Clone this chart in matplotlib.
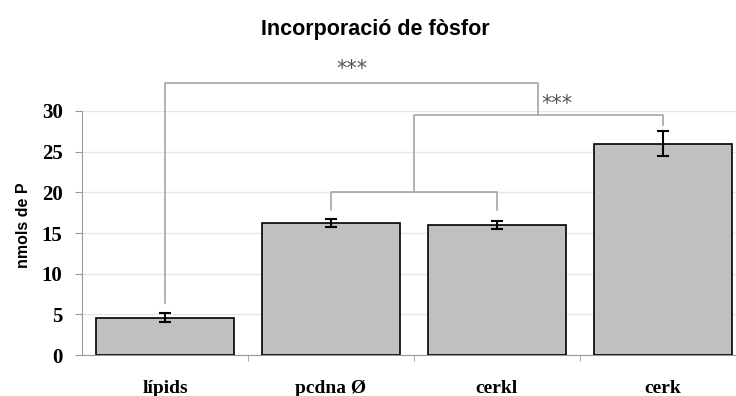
import numpy as np
import matplotlib.pyplot as plt

# Dades
grups = ['lípids', 'pcdna Ø', 'cerkl', 'cerk']
nmols = [4.6, 16.2, 16.0, 26.0]
errors = [0.55, 0.5, 0.5, 1.5]

fig = plt.figure(figsize=(7.36, 3.96), dpi=100)
ax = fig.add_axes([0.1114, 0.1035, 0.8886, 0.6162])

x = np.arange(len(grups))
ax.bar(x, nmols, width=0.83, color='#c0c0c0', edgecolor='black', linewidth=1.2, zorder=3)
ax.errorbar(x, nmols, yerr=errors, fmt='none', ecolor='black', elinewidth=1.5,
            capsize=4.5, capthick=1.5, zorder=4)

ax.set_xlim(-0.5, 3.44)
ax.set_ylim(0, 30)
ax.set_yticks(range(0, 31, 5))
ax.yaxis.grid(True, color='#e6e6e6', linewidth=1)
ax.set_axisbelow(True)

for s in ['top', 'right']:
    ax.spines[s].set_visible(False)
for s in ['left', 'bottom']:
    ax.spines[s].set_color('#999999')

ax.set_xticks(x)
ax.set_xticklabels(grups, family='Liberation Serif', fontweight='bold', fontsize=14)
ax.tick_params(axis='x', length=0, pad=18)
ax.set_xticks([0.5, 1.5, 2.5], minor=True)
ax.tick_params(axis='x', which='minor', length=4, color='#999999')
ax.tick_params(axis='y', length=5, color='#999999', pad=9)
for lab in ax.get_yticklabels():
    lab.set_family('Liberation Serif')
    lab.set_fontweight('bold')
    lab.set_fontsize(15)

ax.set_ylabel('nmols de P', family='Liberation Sans', fontweight='bold', fontsize=11.5)
ax.yaxis.set_label_coords(-0.078, 0.53)
fig.text(0.51, 0.926, 'Incorporació de fòsfor', family='Liberation Sans', fontweight='bold',
         fontsize=15.5, ha='center', va='center')

# Claus de significació
gris = '#a6a6a6'
def linia(xs, ys):
    ax.plot(xs, ys, color=gris, linewidth=1.2, clip_on=False, zorder=2)

linia([1, 1, 2, 2], [17.8, 20.0, 20.0, 17.8])
linia([1.5, 1.5, 3, 3], [20.0, 29.5, 29.5, 28.3])
linia([0, 0, 2.25, 2.25], [6.4, 33.5, 33.5, 29.5])

ax.text(1.125, 33.9, '***', ha='center', va='bottom', fontsize=15,
        family='DejaVu Sans', color='#555555', clip_on=False)
ax.text(2.27, 29.6, '***', ha='left', va='bottom', fontsize=15,
        family='DejaVu Sans', color='#555555', clip_on=False)

plt.savefig('out.png', dpi=100)
